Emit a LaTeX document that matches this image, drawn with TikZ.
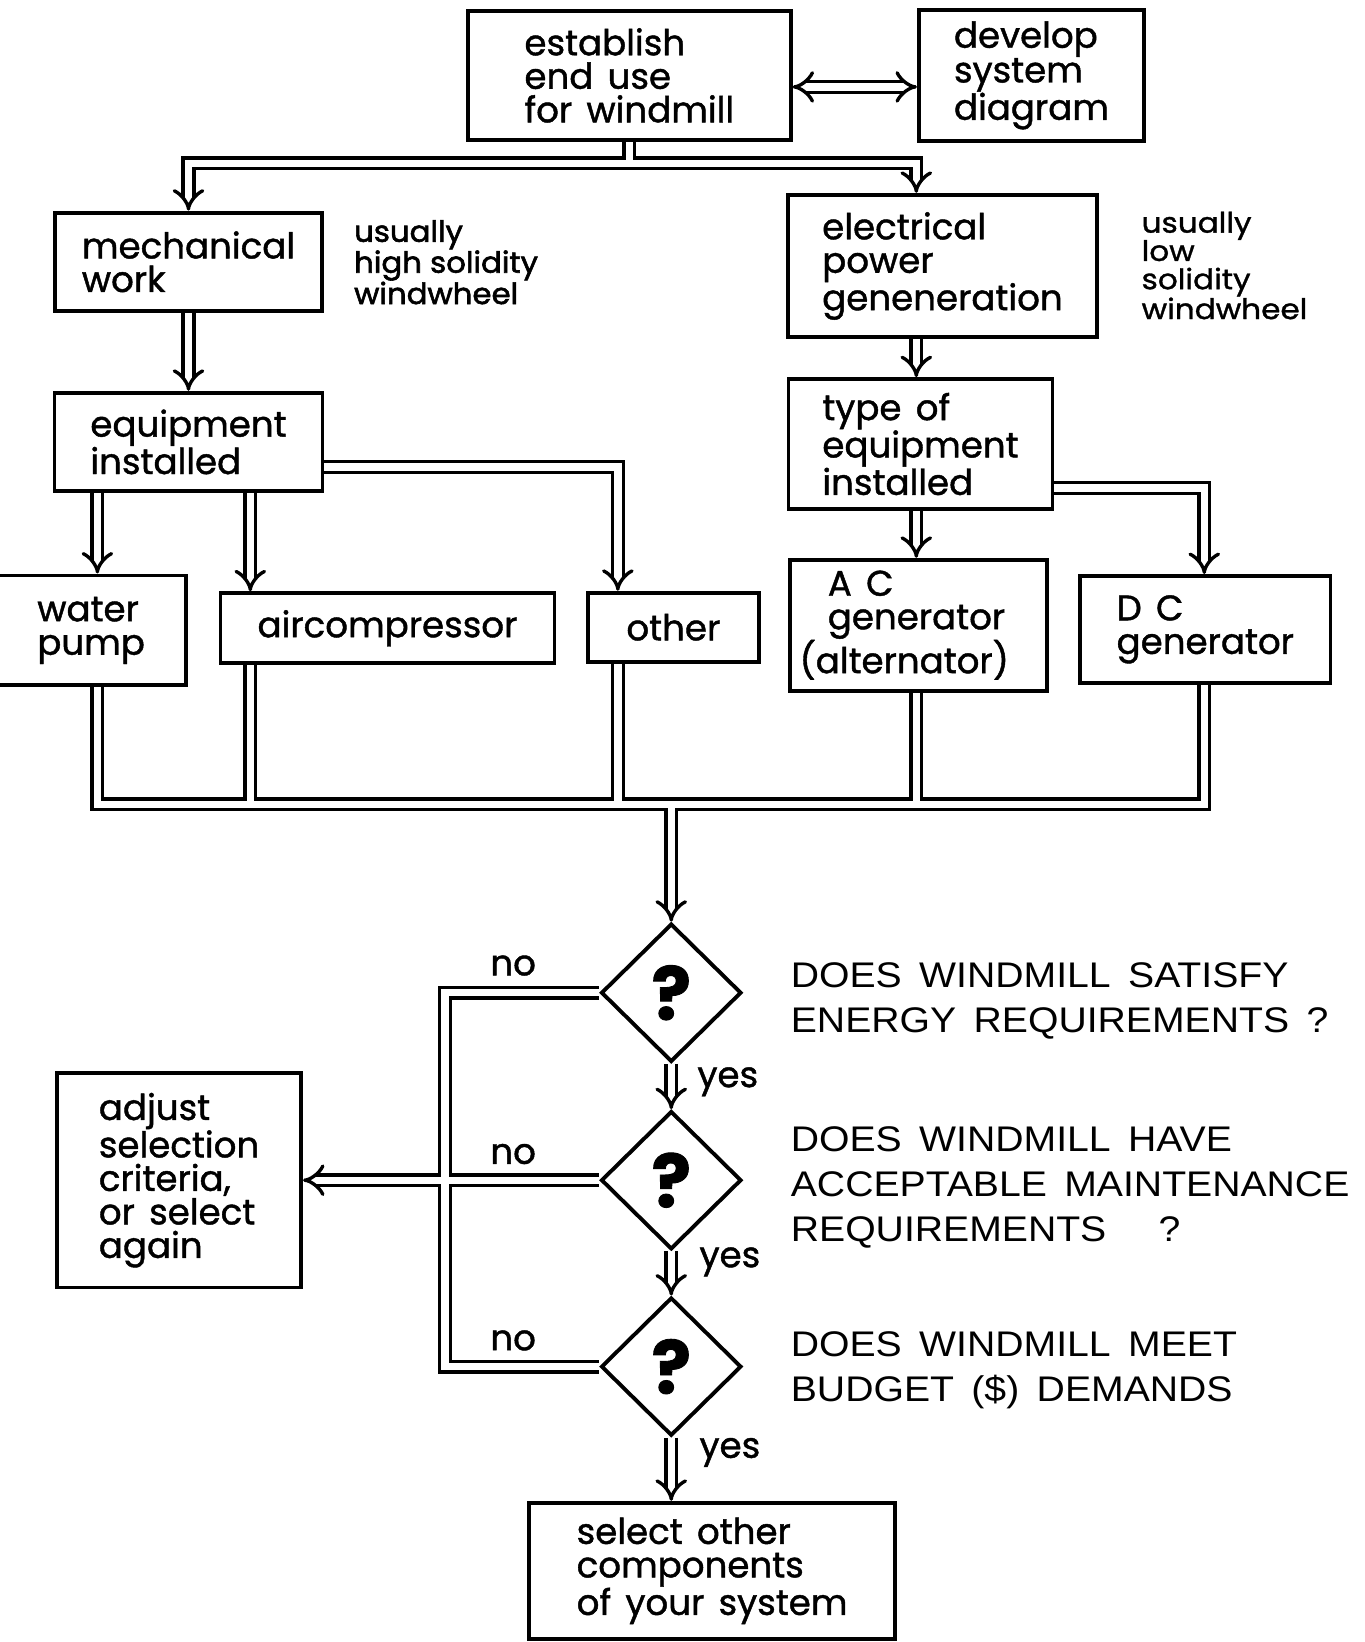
\documentclass[tikz,border=0pt]{standalone}
\usepackage{fontspec}
\setmainfont{Poppins}[FakeBold=1.2, WordSpace=1.5]
\newfontfamily\capsfont{Liberation Sans}[WordSpace=1.6, FakeStretch=1.1]
\newfontfamily\notefont{Poppins}[FakeBold=2, FakeStretch=1.05]
\newfontfamily\notefontb{Poppins}[FakeBold=1.2, FakeStretch=1.1]
\usetikzlibrary{arrows.meta,shapes.geometric,backgrounds}

\tikzset{
  box/.style={draw, line width=3.7pt, fill=white, align=left, inner sep=0pt,
    font=\fontsize{34}{32}\selectfont},
  losange/.style={draw, diamond, line width=3.7pt, fill=white, inner sep=0pt,
    minimum width=134, minimum height=132, font=\fontsize{70}{70}\selectfont\bfseries},
  pipe/.style={draw, double, line width=3.2pt, double distance=7pt},
  note/.style={anchor=north west, align=left, inner sep=0pt},
  question/.style={anchor=north west, align=left, inner sep=0pt,
    font=\capsfont\fontsize{34}{43}\selectfont},
  reponse/.style={inner sep=0pt, font=\fontsize{34}{34}\selectfont}
}

\begin{document}
\begin{tikzpicture}[x=1pt,y=-1pt] % 1 pt = 1 px de l'image

\useasboundingbox (0,0) rectangle (1303,1568);

% --------- COLONNES ET RANGEES DES TUYAUX ----------
\coordinate (cwater) at (93,0);
\coordinate (cair)   at (239,0);
\coordinate (cother) at (590,0);
\coordinate (celec)  at (875,0);
\coordinate (cdc)    at (1150,0);
\coordinate (cleft)  at (425,0);

\coordinate (rlink)  at (0,83);
\coordinate (rsplit) at (0,156);
\coordinate (requip) at (0,446);
\coordinate (rtype)  at (0,466);
\coordinate (rmerge) at (0,768);
% ---------------------------------------------------

% Boites du haut
\node[box, minimum width=308, minimum height=123] (establish) at (601,72) {establish\\end use\\for windmill};
\node[box, minimum width=215, minimum height=125] (develop) at (985,72) {develop\\system\\diagram};

\node[box, minimum width=255, minimum height=94] (mech) at (180,250) {mechanical\\work};
\node[box, minimum width=295, minimum height=136] (elec) at (900,254) {electrical\\power\\geneneration};

\node[note, font=\notefont\fontsize{28}{28}\selectfont] (solhaute) at (338,210) {usually\\high solidity\\windwheel};
\node[note, font=\notefontb\fontsize{27}{27}\selectfont] (solbasse) at (1090,202) {usually\\low\\solidity\\windwheel};

\node[box, minimum width=256, minimum height=94] (equip) at (180,422) {equipment\\installed};
\node[box, minimum width=252, minimum height=124] (typeeq) at (879,424) {type of\\equipment\\installed};

% Equipements
\node[box, minimum width=182, minimum height=105] (water) at (87,602) {water\\pump};
\node[box, minimum width=319, minimum height=67] (air) at (370,600) {aircompressor};
\node[box, minimum width=163, minimum height=66] (other) at (643,599) {other};
\node[box, minimum width=245, minimum height=125] (ac) at (877,597) {A C\\generator\\\hspace*{-27pt}(alternator)};
\node[box, minimum width=239, minimum height=102] (dc) at (1151,601) {D C\\generator};

% Tests
\node[losange] (d1) at (641,948) {?};
\node[losange] (d2) at (641,1127) {?};
\node[losange] (d3) at (641,1305) {?};

\node[question] (q1) at (755,919) {DOES WINDMILL SATISFY\\ENERGY REQUIREMENTS ?};
\node[question] (q2) at (755,1076) {DOES WINDMILL HAVE\\ACCEPTABLE MAINTENANCE\\REQUIREMENTS \ \ ?};
\node[question] (q3) at (755,1271) {DOES WINDMILL MEET\\BUDGET (\$) DEMANDS};

\node[reponse] (no1) at (490,922) {no};
\node[reponse] (no2) at (490,1102) {no};
\node[reponse] (no3) at (490,1280) {no};
\node[reponse] (yes1) at (695,1033) {yes};
\node[reponse] (yes2) at (697,1205) {yes};
\node[reponse] (yes3) at (697,1387) {yes};

\node[box, minimum width=233, minimum height=205] (adjust) at (171,1127) {adjust\\selection\\criteria,\\or select\\again};
\node[box, minimum width=350, minimum height=130] (select) at (680,1500) {select other\\components\\of your system};

% Tuyaux (sous les boites)
\begin{scope}[on background layer]
  \draw[pipe, Implies-Implies] (establish.east |- rlink) -- (develop.west |- rlink);

  % depart vers les deux familles
  \draw[pipe] (establish.south) -- (establish.south |- rsplit) -| ([yshift=22pt]mech.north)
    (establish.south |- rsplit) -| ([yshift=22pt]elec.north -| celec);
  \draw[pipe, Implies-] (mech.north) -- ++(0,-24);
  \draw[pipe, Implies-] (elec.north -| celec) -- ++(0,-24);

  \draw[pipe, -Implies] (mech.south) -- (equip.north);
  \draw[pipe, -Implies] (elec.south -| celec) -- (typeeq.north -| celec);

  \draw[pipe, -Implies] (equip.south -| cwater) -- (water.north -| cwater);
  \draw[pipe, -Implies] (equip.south -| cair) -- (air.north -| cair);
  \draw[pipe, -Implies] (equip.east |- requip) -| (other.north -| cother);
  \draw[pipe, -Implies] (typeeq.south -| celec) -- (ac.north -| celec);
  \draw[pipe, -Implies] (typeeq.east |- rtype) -| (dc.north -| cdc);

  % collecteur
  \draw[pipe] (water.south -| cwater) |- (rmerge -| cdc) -- (dc.south -| cdc)
    (air.south -| cair) -- (rmerge -| cair)
    (other.south -| cother) -- (rmerge -| cother)
    (ac.south -| celec) -- (rmerge -| celec)
    (rmerge -| d1.north) -- ([yshift=22pt]d1.north);
  \draw[pipe, Implies-] (d1.north) -- ++(0,-24);

  % oui
  \draw[pipe, -Implies] (d1.south) -- (d2.north);
  \draw[pipe, -Implies] (d2.south) -- (d3.north);
  \draw[pipe, -Implies] (d3.south) -- (select.north -| d3.south);

  % non
  \draw[pipe] (d1.west) -| (cleft |- d3.west) -- (d3.west)
    (d2.west) -- ([xshift=22pt]adjust.east);
  \draw[pipe, Implies-] (adjust.east) -- ++(24,0);
\end{scope}

\end{tikzpicture}
\end{document}
